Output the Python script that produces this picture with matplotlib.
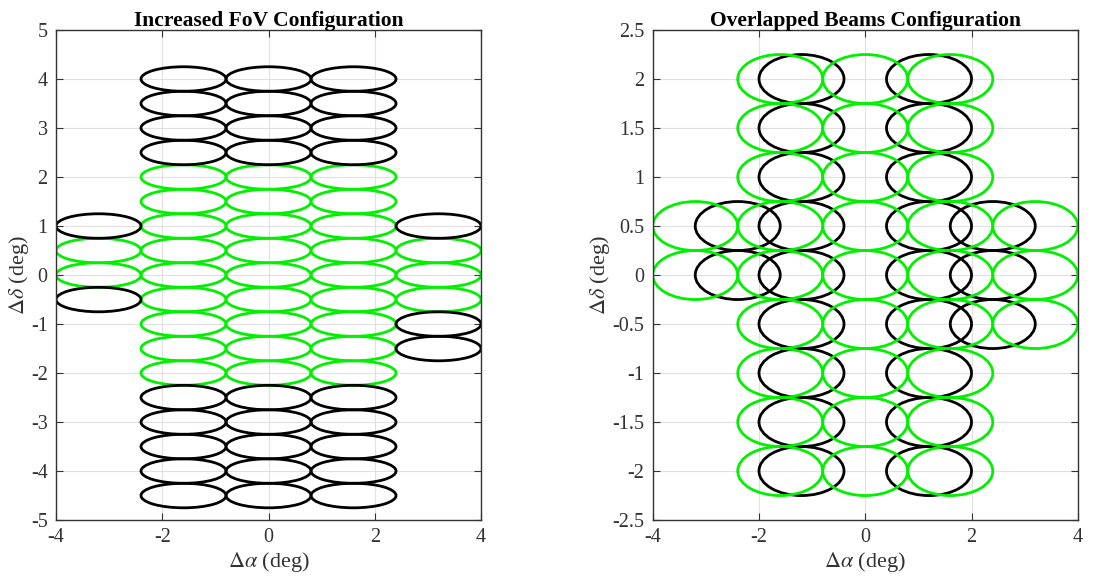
import matplotlib
matplotlib.use("Agg")
import matplotlib.pyplot as plt
from matplotlib.patches import Ellipse

plt.rcParams['font.family'] = ['Liberation Serif', 'DejaVu Serif']
plt.rcParams['mathtext.fontset'] = 'stix'

# beam footprint (deg)
beam_w = 1.6
beam_h = 0.5

# left panel: increased FoV configuration
fov_green_x = [-1.6]*9 + [0]*9 + [1.6]*9 + [-3.2]*2 + [3.2]*3
fov_green_y = [2, 1.5, 1, 0.5, 0, -0.5, -1, -1.5, -2]*3 + [0.5, 0] + [0.5, 0, -0.5]
fov_black_x = [-1.6]*9 + [0]*9 + [1.6]*9 + [-3.2]*2 + [3.2]*3
fov_black_y = [4, 3.5, 3, 2.5, -2.5, -3, -3.5, -4, -4.5]*3 + [1, -0.5] + [1, -1, -1.5]

# right panel: overlapped beams configuration
ovl_green_x = [-1.6]*9 + [0]*9 + [1.6]*9 + [-3.2]*2 + [3.2]*3
ovl_green_y = [2, 1.5, 1, 0.5, 0, -0.5, -1, -1.5, -2]*3 + [0.5, 0] + [0.5, 0, -0.5]
ovl_black_x = [-1.2]*9 + [1.2]*9 + [-2.4]*2 + [2.4]*3
ovl_black_y = [2, 1.5, 1, 0.5, 0, -0.5, -1, -1.5, -2]*2 + [0.5, 0] + [0.5, 0, -0.5]

GREEN = '#00f000'


def draw_beams(ax, xs, ys, color):
    for x, y in zip(xs, ys):
        ax.add_patch(Ellipse((x, y), beam_w, beam_h, fill=False,
                             edgecolor=color, lw=2.0))


def style(ax, title, ylim, yticks, ylabels):
    ax.set_xlim(-4, 4)
    ax.set_ylim(*ylim)
    ax.set_xticks([-4, -2, 0, 2, 4])
    ax.set_xticklabels(['-4', '-2', '0', '2', '4'])
    ax.set_yticks(yticks)
    ax.set_yticklabels(ylabels)
    ax.grid(True, color='#e0e0e0', lw=0.8)
    ax.set_axisbelow(True)
    ax.tick_params(direction='in', top=True, right=True, labelsize=14.5,
                   colors='#333333', length=5, pad=6)
    for s in ax.spines.values():
        s.set_color('#333333')
        s.set_linewidth(1.0)
    ax.set_title(title, fontsize=15.5, fontweight='bold', pad=3)
    ax.set_xlabel(r'$\Delta\alpha$ (deg)', fontsize=16, color='#333333', labelpad=2)
    ax.set_ylabel(r'$\Delta\delta$ (deg)', fontsize=16, color='#333333', labelpad=0)


fig = plt.figure(figsize=(11.2, 5.85), dpi=100)
ax1 = fig.add_axes([0.05, 0.111, 0.3795, 0.8377])
ax2 = fig.add_axes([0.5828, 0.111, 0.3795, 0.8377])

draw_beams(ax1, fov_green_x, fov_green_y, GREEN)
draw_beams(ax1, fov_black_x, fov_black_y, 'black')
style(ax1, 'Increased FoV Configuration', (-5, 5), range(-5, 6),
      [str(v) for v in range(-5, 6)])

draw_beams(ax2, ovl_black_x, ovl_black_y, 'black')
draw_beams(ax2, ovl_green_x, ovl_green_y, GREEN)
yt = [-2.5, -2, -1.5, -1, -0.5, 0, 0.5, 1, 1.5, 2, 2.5]
style(ax2, 'Overlapped Beams Configuration', (-2.5, 2.5), yt,
      ['%g' % v for v in yt])

fig.savefig('out.png', dpi=100)
